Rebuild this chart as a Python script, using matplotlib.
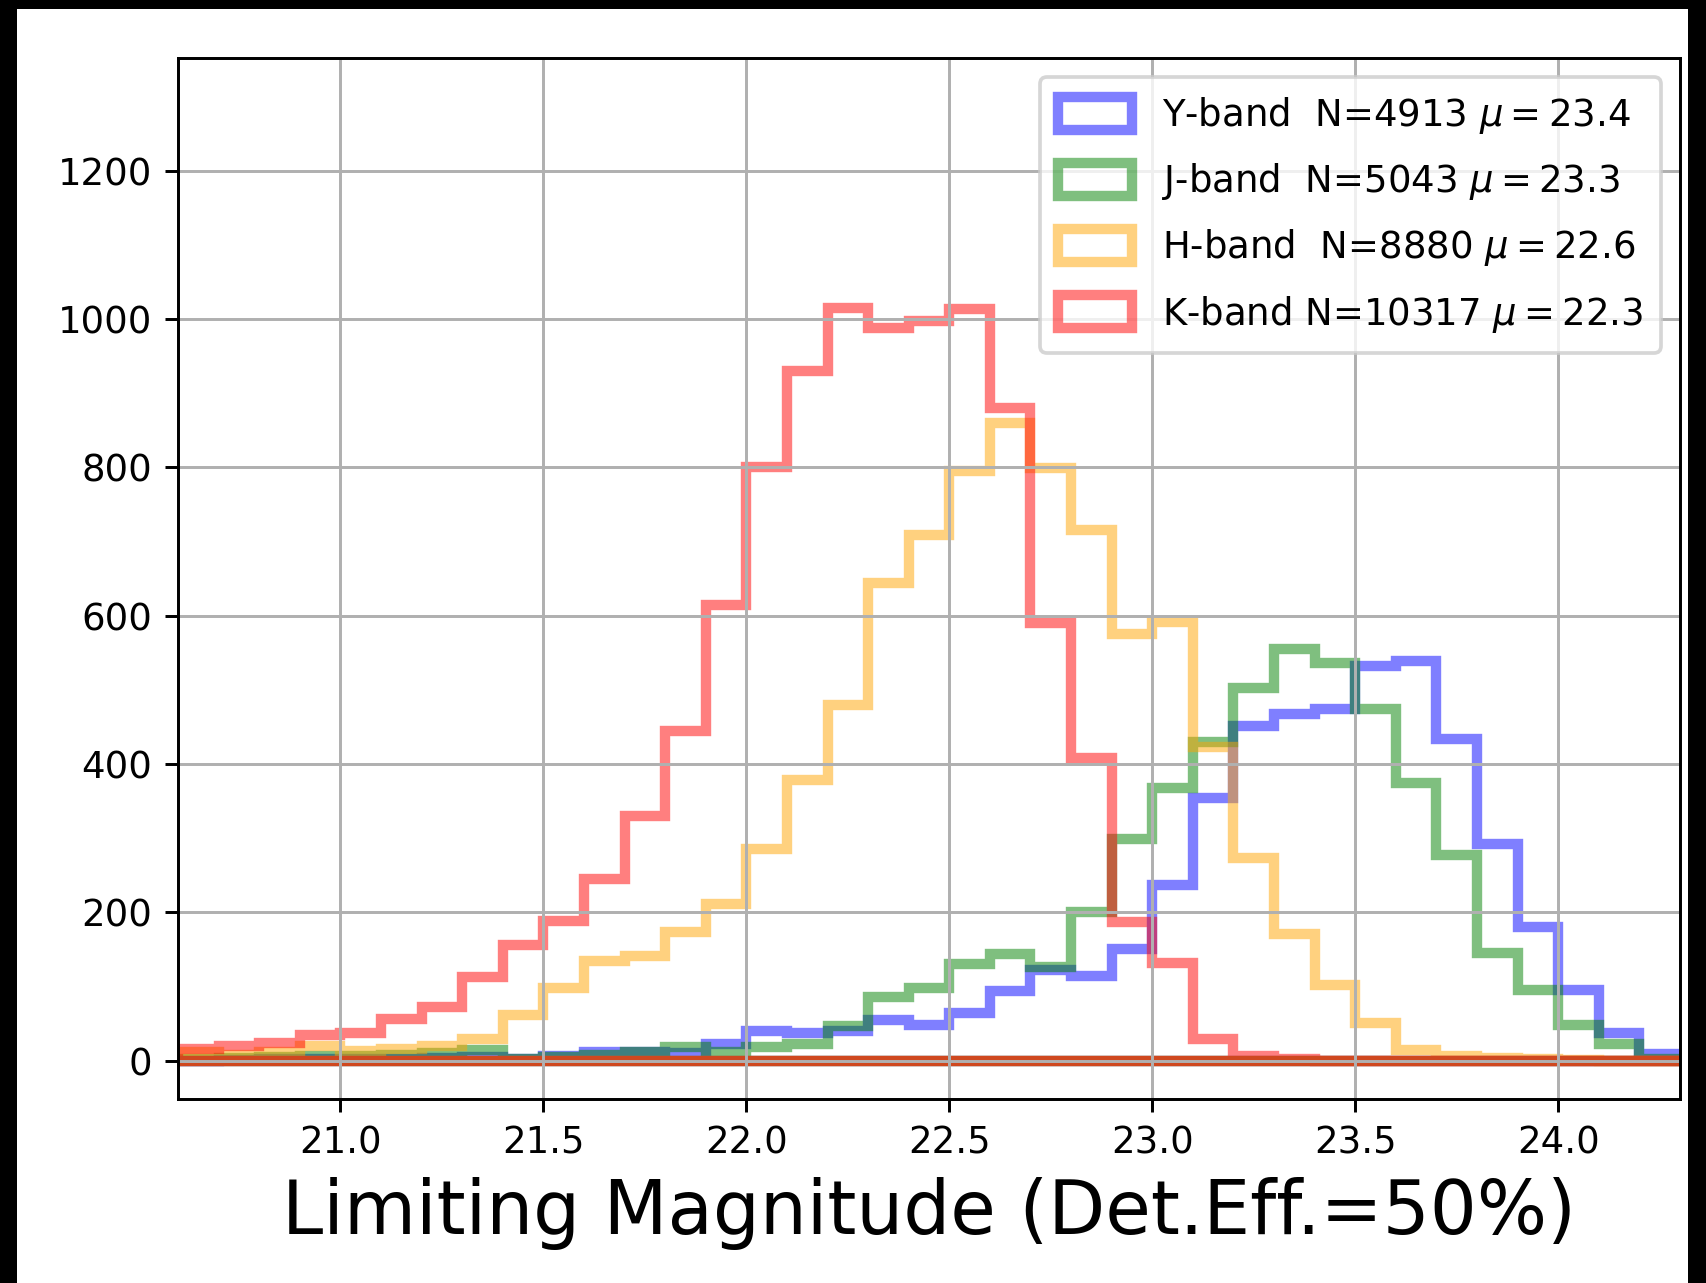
import numpy as np
import matplotlib
matplotlib.use("Agg")
from matplotlib import pyplot as plt
from matplotlib.patches import Rectangle

# bin edges in magnitude (0.1 mag bins)
bin_lo = 20.6
bin_hi = 24.3
bin_width = 0.1

# counts per bin
y_counts = [0, 1, 2, 2, 3, 3, 4, 5, 3, 6, 12, 12, 10, 23, 40, 37, 40, 55, 48,
            65, 94, 122, 115, 151, 237, 354, 451, 467, 474, 532, 539, 434, 292,
            180, 95, 38, 9]
j_counts = [3, 4, 5, 6, 7, 8, 10, 15, 3, 5, 8, 12, 18, 12, 18, 22, 47, 86, 98,
            130, 144, 127, 201, 299, 368, 430, 502, 555, 536, 474, 375, 277, 145,
            95, 48, 23, 3]
h_counts = [12, 8, 12, 20, 13, 16, 20, 30, 62, 98, 134, 141, 173, 212, 285, 378,
            480, 644, 709, 795, 860, 799, 716, 575, 592, 423, 273, 171, 102, 51,
            15, 7, 4, 2, 1, 0, 0]
k_counts = [16, 20, 24, 35, 38, 56, 73, 113, 156, 188, 245, 330, 445, 615, 800,
            930, 1015, 988, 998, 1013, 880, 590, 408, 187, 132, 30, 6, 2, 0, 0,
            0, 0, 0, 0, 0, 0, 0]

bands = ["Y", "J", "H", "K"]
n_stars = [4913, 5043, 8880, 10317]
means = [23.4, 23.3, 22.6, 22.3]
colors = ["blue", "green", "orange", "red"]
spacer = ["  ", "  ", "  ", " "]

W, H = 1706, 1283
DPI = W / 6.4
fig = plt.figure(figsize=(W / DPI, H / DPI), dpi=DPI, facecolor="black")
# white canvas inside the black screenshot border
fig.add_artist(Rectangle((17 / W, 0), (1688 - 17) / W, (H - 9) / H,
                         transform=fig.transFigure, facecolor="white",
                         edgecolor="none", zorder=-10))
ax = fig.add_axes([178 / W, 1 - 1099 / H, (1680 - 178) / W, (1099 - 58) / H])

edges = np.round(np.arange(bin_lo, bin_hi + bin_width / 2, bin_width), 2)
centers = (edges[:-1] + edges[1:]) / 2

for band, counts, n, mu, c, sp in zip(bands, [y_counts, j_counts, h_counts, k_counts],
                                      n_stars, means, colors, spacer):
    ax.hist(centers, bins=edges, weights=counts, histtype="stepfilled", fill=False,
            edgecolor=c, lw=2.8, alpha=0.5,
            label=f"{band}-band{sp}N={n} $\\mu=${mu}")

ax.grid(True)
ax.set_xlim(bin_lo, bin_hi)
ax.set_ylim(-51.5, 1352)
ax.set_yticks([0, 200, 400, 600, 800, 1000, 1200])
ax.set_xticks([21.0, 21.5, 22.0, 22.5, 23.0, 23.5, 24.0])
ax.set_xlabel("Limiting Magnitude (Det.Eff.=50%)", fontsize=20)
ax.legend(loc="upper right", labelspacing=0.68, handleheight=1.0,
          handletextpad=0.8, borderpad=0.5)

fig.savefig("out.png", dpi=DPI, facecolor=fig.get_facecolor())
